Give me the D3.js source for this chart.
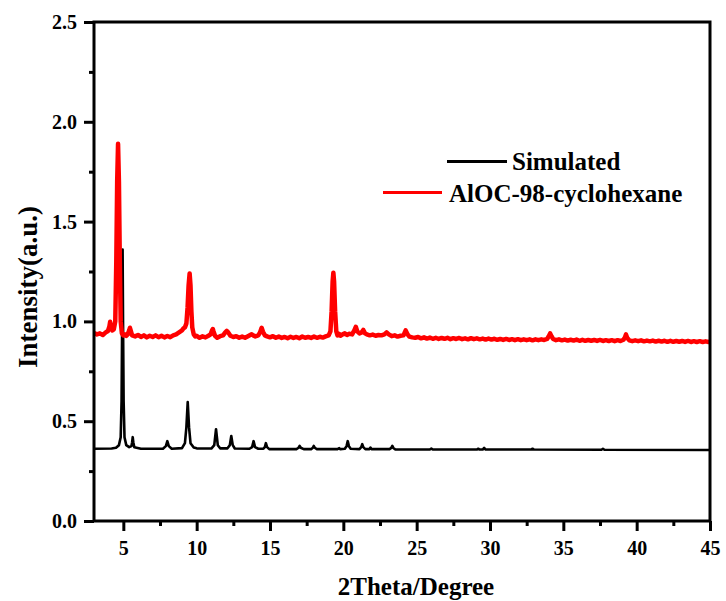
<!DOCTYPE html>
<html><head><meta charset="utf-8">
<script src="https://cdn.jsdelivr.net/npm/d3@7/dist/d3.min.js"></script>
<style>
body{margin:0;background:#fff;}
svg text{font-family:"Liberation Serif","Times New Roman",serif !important;font-weight:bold;fill:#000;}
</style></head>
<body><svg id="c" width="726" height="601"></svg>
<script>
// ---- data ----
const xMajorTicks = [5,10,15,20,25,30,35,40,45];
const xMinorTicks = [7.5,12.5,17.5,22.5,27.5,32.5,37.5,42.5];
const yMajorTicks = [0,0.5,1.0,1.5,2.0,2.5];
const yMinorTicks = [0.25,0.75,1.25,1.75,2.25];
const seriesNames = ["Simulated","AlOC-98-cyclohexane"];
const xLabel = "2Theta/Degree";
const yLabel = "Intensity(a.u.)";

const simulated = [
[3,0.362],[4.2,0.363],[4.5,0.367],[4.7,0.38],[4.82,0.42],[4.88,0.6],[4.92,1.0],[4.95,1.36],[4.98,1.0],[5.02,0.6],[5.08,0.42],[5.2,0.38],[5.4,0.37],
[5.55,0.375],[5.6,0.395],[5.64,0.42],[5.68,0.395],[5.75,0.37],[6.2,0.362],
[7.7,0.362],[7.9,0.375],[8.0,0.40],[8.1,0.375],[8.3,0.362],
[9.0,0.365],[9.2,0.39],[9.3,0.47],[9.39,0.596],[9.48,0.47],[9.58,0.39],[9.8,0.368],[10.0,0.364],
[11.0,0.363],[11.2,0.38],[11.32,0.46],[11.44,0.38],[11.6,0.364],
[12.1,0.364],[12.26,0.38],[12.36,0.426],[12.46,0.38],[12.6,0.363],
[13.6,0.362],[13.78,0.37],[13.88,0.40],[13.98,0.37],[14.2,0.362],
[14.55,0.362],[14.65,0.37],[14.72,0.39],[14.8,0.37],[14.95,0.36],
[16.8,0.36],[16.95,0.367],[17.02,0.376],[17.1,0.367],[17.3,0.36],
[17.8,0.36],[17.92,0.367],[17.98,0.376],[18.05,0.367],[18.2,0.36],
[19.6,0.36],[19.72,0.365],[19.8,0.36],
[20.1,0.362],[20.22,0.375],[20.3,0.40],[20.38,0.375],[20.5,0.362],
[21.1,0.36],[21.22,0.37],[21.29,0.385],[21.36,0.37],[21.5,0.36],
[21.78,0.36],[21.85,0.368],[21.92,0.36],
[23.15,0.36],[23.27,0.366],[23.34,0.376],[23.41,0.366],[23.55,0.358],
[25.9,0.358],[26.0,0.363],[26.1,0.358],
[29.1,0.358],[29.2,0.362],[29.3,0.358],[29.5,0.358],[29.6,0.366],[29.7,0.358],
[32.8,0.358],[32.9,0.362],[33.0,0.358],
[37.6,0.357],[37.7,0.362],[37.8,0.357],
[45,0.356]
];

const measured = [
[3.0,.942],[3.2,.935],[3.4,.940],[3.6,.932],[3.8,.945],[3.95,.952],[4.05,.975],[4.1,.998],[4.15,.975],[4.25,.955],[4.35,.96],[4.45,1.0],[4.52,1.3],[4.58,1.7],[4.64,1.89],[4.7,1.7],[4.76,1.3],[4.82,1.0],[4.9,.94],
[5.0,.93],[5.1,.935],[5.2,.928],[5.3,.935],[5.4,.955],[5.45,.968],[5.5,.955],[5.6,.93],[5.8,.925],[6.0,.932],[6.2,.922],[6.4,.93],[6.6,.92],[6.8,.928],[7.0,.922],[7.2,.93],[7.4,.921],[7.6,.928],[7.8,.92],[8.0,.927],[8.2,.921],[8.4,.93],[8.6,.935],[8.8,.945],[9.0,.955],[9.1,.965],[9.2,.97],[9.3,.99],[9.38,1.07],[9.45,1.18],[9.52,1.24],[9.58,1.18],[9.64,1.05],[9.7,.97],[9.8,.935],[9.9,.925],
[10.0,.928],[10.2,.918],[10.4,.925],[10.6,.92],[10.8,.928],[10.95,.935],[11.05,.955],[11.1,.962],[11.15,.95],[11.25,.928],[11.4,.918],[11.6,.926],[11.8,.93],[11.95,.945],[12.05,.952],[12.15,.945],[12.3,.928],[12.5,.922],[12.7,.926],[12.9,.918],[13.1,.924],[13.3,.918],[13.5,.926],[13.65,.932],[13.75,.936],[13.85,.93],[14.0,.925],[14.2,.93],[14.32,.945],[14.43,.968],[14.52,.948],[14.65,.93],[14.8,.925],
[15.0,.92],[15.2,.926],[15.4,.918],[15.6,.924],[15.8,.917],[16.0,.922],[16.2,.916],[16.4,.923],[16.6,.917],[16.8,.922],[17.0,.916],[17.2,.924],[17.4,.918],[17.6,.922],[17.8,.917],[18.0,.924],[18.2,.918],[18.4,.923],[18.6,.919],[18.8,.925],[19.0,.93],[19.12,.95],[19.2,1.05],[19.27,1.2],[19.32,1.244],[19.37,1.2],[19.44,1.05],[19.52,.95],[19.6,.93],[19.7,.938],[19.8,.928],[19.95,.935],
[20.1,.94],[20.25,.932],[20.4,.938],[20.6,.935],[20.75,.955],[20.85,.973],[20.95,.95],[21.1,.94],[21.25,.945],[21.36,.957],[21.48,.94],[21.6,.935],[21.8,.93],[22.0,.934],[22.2,.928],[22.4,.932],[22.6,.93],[22.8,.935],[22.95,.945],[23.1,.935],[23.3,.926],[23.5,.93],[23.7,.924],[23.9,.928],[24.1,.93],[24.25,.955],[24.38,.935],[24.5,.924],[24.7,.92],[24.9,.918],
[25.1,.922],[25.3,.915],[25.5,.92],[25.7,.914],[25.9,.919],[26.1,.913],[26.3,.918],[26.5,.912],[26.7,.917],[26.9,.913],[27.1,.918],[27.3,.911],[27.5,.916],[27.7,.912],[27.9,.917],[28.1,.911],[28.3,.915],[28.5,.91],[28.7,.916],[28.9,.911],[29.1,.915],[29.3,.91],[29.5,.914],[29.7,.909],[29.9,.914],
[30.1,.909],[30.3,.913],[30.5,.908],[30.7,.912],[30.9,.907],[31.1,.912],[31.3,.907],[31.5,.911],[31.7,.906],[31.9,.911],[32.1,.906],[32.3,.91],[32.5,.906],[32.7,.91],[32.9,.905],[33.1,.91],[33.3,.906],[33.5,.91],[33.7,.907],[33.9,.912],[34.0,.925],[34.1,.94],[34.2,.925],[34.3,.912],[34.5,.906],[34.7,.91],[34.9,.905],
[35.1,.909],[35.3,.904],[35.5,.908],[35.7,.904],[35.9,.909],[36.1,.903],[36.3,.908],[36.5,.903],[36.7,.907],[36.9,.903],[37.1,.907],[37.3,.902],[37.5,.907],[37.7,.902],[37.9,.906],[38.1,.902],[38.3,.906],[38.5,.901],[38.7,.906],[38.9,.902],[39.1,.908],[39.2,.92],[39.27,.935],[39.35,.918],[39.5,.905],[39.7,.901],[39.9,.905],
[40.1,.901],[40.3,.905],[40.5,.9],[40.7,.904],[40.9,.9],[41.1,.904],[41.3,.899],[41.5,.903],[41.7,.899],[41.9,.903],[42.1,.898],[42.3,.903],[42.5,.898],[42.7,.902],[42.9,.898],[43.1,.902],[43.3,.897],[43.5,.902],[43.7,.897],[43.9,.901],[44.1,.897],[44.3,.901],[44.5,.897],[44.7,.9],[44.9,.897],[45.0,.899]
];

// ---- chart ----
const FONT = '"Liberation Serif","Times New Roman",serif';
const svg = d3.select("#c");
const x = d3.scaleLinear().domain([3,45]).range([94,710]);
const y = d3.scaleLinear().domain([0,2.5]).range([521,22]);
const fmtY = d3.format(".1f");

const line = d3.line().x(d=>x(d[0])).y(d=>y(d[1]));

const plot = svg.append("g");
plot.append("path").datum(simulated).attr("d",line)
  .attr("fill","none").attr("stroke","#000").attr("stroke-width",2.6).attr("stroke-linejoin","round");
plot.append("path").datum(measured).attr("d",line)
  .attr("fill","none").attr("stroke","#ff0000").attr("stroke-width",4.5).attr("stroke-linejoin","round");

// frame
svg.append("rect").attr("x",x(3)).attr("y",y(2.5)).attr("width",x(45)-x(3)).attr("height",y(0)-y(2.5))
  .attr("fill","none").attr("stroke","#000").attr("stroke-width",3);

// axes
function styleAxis(g){
  g.attr("font-family",FONT).attr("font-size",20).attr("font-weight","bold");
  g.select(".domain").remove();
  g.selectAll(".tick line").attr("stroke","#000").attr("stroke-width",3);
  g.selectAll(".tick text").attr("font-family",FONT).style("font-size","20px").attr("fill","#000");
}
svg.append("g").attr("transform",`translate(0,${y(0)})`)
  .call(d3.axisBottom(x).tickValues(xMajorTicks).tickSize(10).tickPadding(10).tickFormat(d3.format("d")))
  .call(styleAxis);
svg.append("g").attr("transform",`translate(0,${y(0)})`)
  .call(d3.axisBottom(x).tickValues(xMinorTicks).tickSize(5).tickFormat(""))
  .call(styleAxis);
svg.append("g").attr("transform",`translate(${x(3)},0)`)
  .call(d3.axisLeft(y).tickValues(yMajorTicks).tickSize(10).tickPadding(7).tickFormat(fmtY))
  .call(styleAxis);
svg.append("g").attr("transform",`translate(${x(3)},0)`)
  .call(d3.axisLeft(y).tickValues(yMinorTicks).tickSize(5).tickFormat(""))
  .call(styleAxis);

// axis titles
svg.append("text").attr("x",416).attr("y",595).attr("text-anchor","middle")
  .style("font-size","25px").text(xLabel);
svg.append("text").attr("transform","translate(37,287) rotate(-90)").attr("text-anchor","middle")
  .style("font-size","27px").text(yLabel);

// legend
const legend = svg.append("g");
legend.append("line").attr("x1",447).attr("x2",507).attr("y1",161.5).attr("y2",161.5).attr("stroke","#000").attr("stroke-width",3);
legend.append("text").attr("x",512).attr("y",170).style("font-size","25px").text(seriesNames[0]);
legend.append("line").attr("x1",383).attr("x2",442).attr("y1",192.5).attr("y2",192.5).attr("stroke","#ff0000").attr("stroke-width",3);
legend.append("text").attr("x",449).attr("y",202).style("font-size","25px").text(seriesNames[1]);
</script></body></html>
